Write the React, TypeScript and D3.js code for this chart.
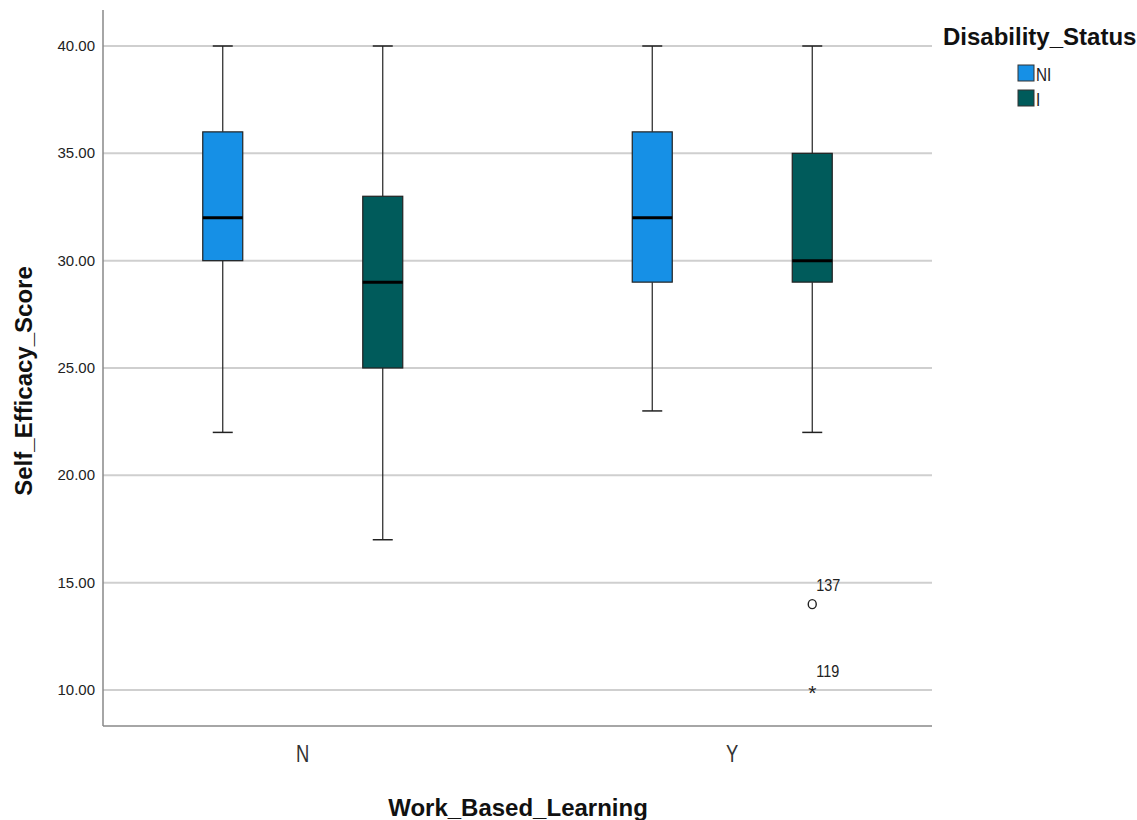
import React from "react";
import * as d3 from "d3";

const categories = ["N", "Y"];
const groups = ["NI", "I"];
const groupColors = ["#1690E6", "#005B5B"];
const boxStats = [
  { cat: "N", grp: "NI", min: 22, q1: 30, med: 32, q3: 36, max: 40 },
  { cat: "N", grp: "I", min: 17, q1: 25, med: 29, q3: 33, max: 40 },
  { cat: "Y", grp: "NI", min: 23, q1: 29, med: 32, q3: 36, max: 40 },
  { cat: "Y", grp: "I", min: 22, q1: 29, med: 30, q3: 35, max: 40 },
];
const outliers = [
  { cat: "Y", grp: "I", value: 14, label: "137", kind: "circle" },
  { cat: "Y", grp: "I", value: 10, label: "119", kind: "star" },
];
const yTicks = [10, 15, 20, 25, 30, 35, 40];

export default function App() {
  const W = 1137, H = 820;
  const left = 103, right = 932, top = 10, bottom = 726;
  const y = d3.scaleLinear().domain([10, 40]).range([690, 46]);
  const x = d3.scaleBand().domain(categories).range([88, 947]).paddingInner(0).paddingOuter(0);
  const sub = d3.scaleBand().domain(groups).range([-160, 160]).paddingInner(0).paddingOuter(0);
  const boxW = 40;
  const cx = (cat: string, grp: string) =>
    (x(cat) as number) + x.bandwidth() / 2 + (sub(grp) as number) + sub.bandwidth() / 2;
  const color = (g: string) => groupColors[groups.indexOf(g)];
  const fmt = d3.format(".2f");

  return (
    <svg width={W} height={H} style={{ display: "block", position: "absolute", left: 0, top: 0 }}
      fontFamily="Arial, 'Liberation Sans', sans-serif">
      <rect width={W} height={H} fill="#fff" />
      {yTicks.map((t) => (
        <g key={t}>
          <line x1={left} x2={right} y1={y(t)} y2={y(t)} stroke="#cfcfcf" strokeWidth={2} />
          <text x={95} y={y(t) + 5} textAnchor="end" fontSize={15} fill="#222">{fmt(t)}</text>
        </g>
      ))}
      <line x1={left} x2={left} y1={top} y2={bottom} stroke="#888" strokeWidth={1.5} />
      <line x1={left} x2={right} y1={bottom} y2={bottom} stroke="#888" strokeWidth={1.5} />
      {categories.map((c) => (
        <text key={c} transform={`translate(${(x(c) as number) + x.bandwidth() / 2},762) scale(0.8,1)`}
          textAnchor="middle" fontSize={23} fill="#333">{c}</text>
      ))}
      {boxStats.map((b, i) => {
        const c = cx(b.cat, b.grp);
        return (
          <g key={i}>
            <line x1={c} x2={c} y1={y(b.max)} y2={y(b.q3)} stroke="#222" strokeWidth={1.2} />
            <line x1={c} x2={c} y1={y(b.q1)} y2={y(b.min)} stroke="#222" strokeWidth={1.2} />
            <line x1={c - 10} x2={c + 10} y1={y(b.max)} y2={y(b.max)} stroke="#222" strokeWidth={1.5} />
            <line x1={c - 10} x2={c + 10} y1={y(b.min)} y2={y(b.min)} stroke="#222" strokeWidth={1.5} />
            <rect x={c - boxW / 2} y={y(b.q3)} width={boxW} height={y(b.q1) - y(b.q3)}
              fill={color(b.grp)} stroke="#222" strokeWidth={1.2} />
            <line x1={c - boxW / 2} x2={c + boxW / 2} y1={y(b.med)} y2={y(b.med)} stroke="#000" strokeWidth={3} />
          </g>
        );
      })}
      {outliers.map((o, i) => {
        const c = cx(o.cat, o.grp);
        const py = y(o.value);
        return (
          <g key={i}>
            {o.kind === "circle" ? (
              <ellipse cx={c} cy={py} rx={4} ry={4.5} fill="none" stroke="#222" strokeWidth={1.4} />
            ) : (
              <text x={c} y={py + 10} textAnchor="middle" fontSize={21} fill="#222">*</text>
            )}
            <text transform={`translate(${c + 4},${py - 13}) scale(0.9,1)`} fontSize={16} fill="#222">{o.label}</text>
          </g>
        );
      })}
      <text transform={`translate(32,381) rotate(-90)`} textAnchor="middle" fontSize={24}
        fontWeight="bold" fill="#111">Self_Efficacy_Score</text>
      <text x={518} y={816} textAnchor="middle" fontSize={24} fontWeight="bold" fill="#111">Work_Based_Learning</text>
      <text x={943} y={45} fontSize={24} fontWeight="bold" fill="#111">Disability_Status</text>
      {groups.map((g, i) => (
        <g key={g}>
          <rect x={1018} y={65 + i * 25} width={16} height={16} fill={color(g)} stroke="#333" strokeWidth={1} />
          <text transform={`translate(1036,${81 + i * 25}) scale(0.85,1)`} fontSize={18} fill="#222">{g}</text>
        </g>
      ))}
    </svg>
  );
}
